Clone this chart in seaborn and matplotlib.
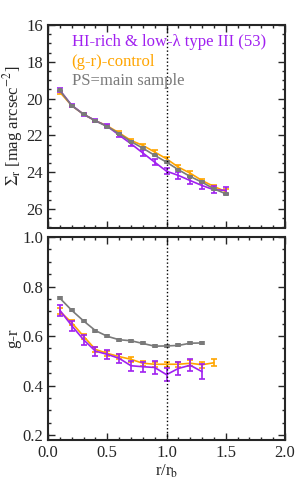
import numpy as np
import pandas as pd
import matplotlib
matplotlib.use("Agg")
import matplotlib.pyplot as plt
from matplotlib.ticker import MultipleLocator
import seaborn as sns

# radial bins (r / r_b)
r_sb = [0.1, 0.2, 0.3, 0.4, 0.5, 0.6, 0.7, 0.8, 0.9, 1.0, 1.1, 1.2, 1.3, 1.4, 1.5]
r_col_main = [0.1, 0.2, 0.3, 0.4, 0.5, 0.6, 0.7, 0.8, 0.9, 1.0, 1.1, 1.2, 1.3]
r_col_ctrl = [0.1, 0.2, 0.3, 0.4, 0.5, 0.6, 0.7, 0.8, 0.9, 1.0, 1.1, 1.2, 1.3, 1.4]
r_col_hi = [0.1, 0.2, 0.3, 0.4, 0.5, 0.6, 0.7, 0.8, 0.9, 1.0, 1.1, 1.2, 1.3]

# surface brightness profiles
sb_hi = [19.54, 20.36, 20.85, 21.2, 21.5, 21.98, 22.45, 22.95, 23.45, 23.94, 24.17, 24.45, 24.72, 24.95, 24.98]
sb_hi_err = [0.12, 0.08, 0.08, 0.08, 0.1, 0.12, 0.15, 0.18, 0.18, 0.18, 0.18, 0.18, 0.18, 0.18, 0.2]
sb_ctrl = [19.65, 20.38, 20.85, 21.2, 21.48, 21.86, 22.27, 22.54, 22.9, 23.27, 23.72, 24.05, 24.45, 24.77, 25.05]
sb_ctrl_err = [0.08, 0.06, 0.06, 0.06, 0.07, 0.08, 0.09, 0.1, 0.1, 0.1, 0.1, 0.1, 0.1, 0.1, 0.12]
sb_main = [19.55, 20.38, 20.85, 21.2, 21.52, 21.9, 22.33, 22.69, 23.08, 23.45, 23.86, 24.23, 24.54, 24.9, 25.17]
sb_main_err = [0.04] * 15

# g-r colour profiles
gr_hi = [0.704, 0.642, 0.585, 0.539, 0.526, 0.51, 0.48, 0.476, 0.473, 0.444, 0.469, 0.482, 0.456]
gr_hi_err = [0.022, 0.02, 0.02, 0.018, 0.018, 0.018, 0.02, 0.02, 0.025, 0.025, 0.028, 0.025, 0.03]
gr_ctrl = [0.70, 0.654, 0.599, 0.546, 0.530, 0.517, 0.506, 0.49, 0.486, 0.486, 0.486, 0.49, 0.484, 0.492]
gr_ctrl_err = [0.012, 0.01, 0.01, 0.01, 0.01, 0.01, 0.01, 0.01, 0.01, 0.01, 0.01, 0.012, 0.012, 0.015]
gr_main = [0.753, 0.704, 0.661, 0.622, 0.599, 0.585, 0.581, 0.570, 0.559, 0.560, 0.562, 0.571, 0.572]
gr_main_err = [0.004] * 13

c_hi = "#a020f0"
c_ctrl = "#ffa500"
c_main = "#7a7a7a"

sns.set_theme(style="ticks")
plt.rcParams["font.family"] = ["Liberation Serif", "DejaVu Serif"]
plt.rcParams["mathtext.fontset"] = "stix"
plt.rcParams["font.size"] = 12

fig = plt.figure(figsize=(3, 5), dpi=100)
ax1 = fig.add_axes([0.16, 0.545, 0.79, 0.405])
ax2 = fig.add_axes([0.16, 0.12, 0.79, 0.406])


def draw(ax, x, y, e, color, marker):
    df = pd.DataFrame({"x": x, "y": y})
    sns.lineplot(data=df, x="x", y="y", ax=ax, color=color, lw=1.2,
                 marker=marker, markersize=3.5, markeredgewidth=0)
    ax.errorbar(x, y, yerr=e, fmt="none", ecolor=color, elinewidth=1.2,
                capsize=2.5, capthick=1.2)


draw(ax1, r_sb, sb_ctrl, sb_ctrl_err, c_ctrl, None)
draw(ax1, r_sb, sb_hi, sb_hi_err, c_hi, None)
draw(ax1, r_sb, sb_main, sb_main_err, c_main, "s")

draw(ax2, r_col_ctrl, gr_ctrl, gr_ctrl_err, c_ctrl, None)
draw(ax2, r_col_main, gr_main, gr_main_err, c_main, "s")
draw(ax2, r_col_hi, gr_hi, gr_hi_err, c_hi, None)

for ax in (ax1, ax2):
    ax.axvline(1.0, color="black", ls=":", lw=1)
    ax.set_xlim(0, 2)
    ax.xaxis.set_major_locator(MultipleLocator(0.5))
    ax.xaxis.set_minor_locator(MultipleLocator(0.1))
    ax.tick_params(which="both", direction="in", top=True, right=True,
                   labelsize=12, width=1)
    ax.tick_params(which="major", length=5)
    ax.tick_params(which="minor", length=2.5)
    for s in ax.spines.values():
        s.set_linewidth(1.5)

ax1.set_ylim(27, 16)
ax1.yaxis.set_major_locator(MultipleLocator(2))
ax1.yaxis.set_minor_locator(MultipleLocator(0.5))
ax1.set_xticklabels([])
ax1.set_xlabel("")
ax1.set_ylabel(r"$\Sigma_{\rm r}$ [mag arcsec$^{-2}$]", fontsize=12, labelpad=1)

ax2.set_ylim(0.18, 1.0)
ax2.yaxis.set_major_locator(MultipleLocator(0.2))
ax2.yaxis.set_minor_locator(MultipleLocator(0.05))
ax2.set_yticks([0.2, 0.4, 0.6, 0.8, 1.0])
ax2.set_yticklabels(["0.2", "0.4", "0.6", "0.8", "1.0"])
ax2.set_xticks([0.0, 0.5, 1.0, 1.5, 2.0])
ax2.set_xticklabels(["0.0", "0.5", "1.0", "1.5", "2.0"])
ax2.set_xlabel(r"r/r$_{\rm b}$", fontsize=12, labelpad=1)
ax2.set_ylabel("g-r", fontsize=12, labelpad=1)

labels = [("HI-rich & low-λ type III (53)", c_hi),
          ("(g-r)-control", c_ctrl),
          ("PS=main sample", c_main)]
for i, (txt, col) in enumerate(labels):
    ax1.text(0.10, 0.915 - i * 0.097, txt, color=col, fontsize=12,
             transform=ax1.transAxes, va="center", ha="left")

fig.savefig("out.png", dpi=100)
